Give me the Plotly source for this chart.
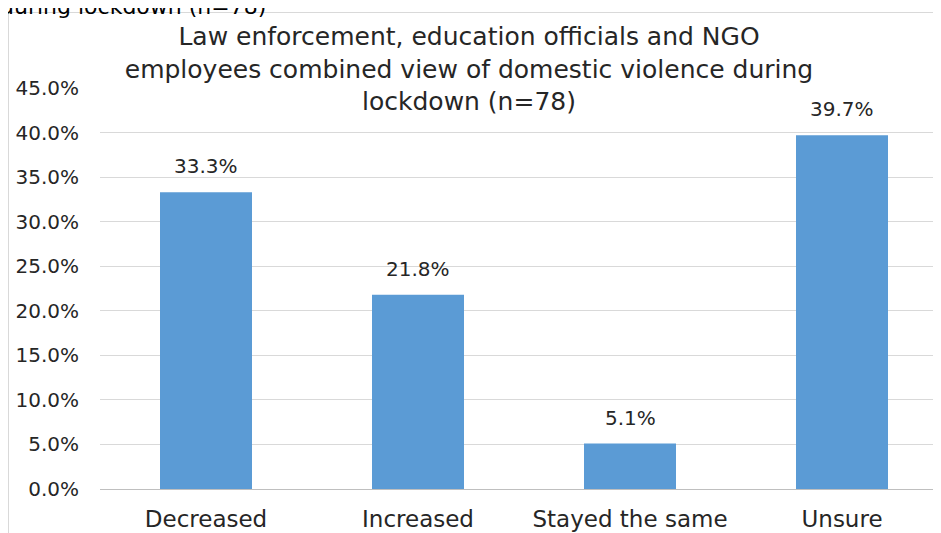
import plotly.graph_objects as go

categories = ["Decreased", "Increased", "Stayed the same", "Unsure"]
values = [33.3, 21.8, 5.1, 39.7]
labels = ["33.3%", "21.8%", "5.1%", "39.7%"]
tickvals = [0, 5, 10, 15, 20, 25, 30, 35, 40, 45]
ticktext = ["0.0%", "5.0%", "10.0%", "15.0%", "20.0%", "25.0%", "30.0%", "35.0%", "40.0%", "45.0%"]

W, H = 941, 533
L, R, T, B = 92, 1, 80, 52
pw = W - L - R
ph = H - T - B
FONT = "DejaVu Sans"
TXT = "#262626"

fig = go.Figure(go.Bar(
    x=categories, y=values,
    marker=dict(color="#5B9BD5", line=dict(width=0)),
))

def px_x(p):
    return (p - L) / pw

def px_y(p):
    return (H - B - p) / ph

annotations = [
    dict(x=c, y=v, text=t, xref="x", yref="y", showarrow=False,
         yanchor="bottom", yshift=12,
         font=dict(size=20, color=TXT, family=FONT))
    for c, v, t in zip(categories, values, labels)
]
annotations.append(
    dict(text="during lockdown (n=78)", xref="paper", yref="paper",
         x=px_x(-10), y=px_y(13), xanchor="left", yanchor="bottom",
         showarrow=False, font=dict(size=22, color="#000000", family=FONT))
)

fig.update_layout(
    width=W, height=H,
    margin=dict(l=L, r=R, t=T, b=B),
    paper_bgcolor="white", plot_bgcolor="white",
    bargap=0.566,
    showlegend=False,
    font=dict(family=FONT, color=TXT),
    title=dict(
        text="Law enforcement, education officials and NGO<br>employees combined view of domestic violence during<br>lockdown (n=78)",
        x=461 / W, xref="container", xanchor="center", y=1 - 37 / H, yanchor="top",
        font=dict(size=25, color=TXT, family=FONT),
    ),
    xaxis=dict(
        range=[-0.5, 3.5], showgrid=False, showline=False,
        tickfont=dict(size=23, color=TXT, family=FONT), ticks="",
        ticklabelstandoff=14,
    ),
    yaxis=dict(
        range=[0, 45], tickvals=tickvals, ticktext=ticktext,
        showgrid=True, gridcolor="#D9D9D9", gridwidth=1,
        zeroline=True, zerolinecolor="#BFBFBF", zerolinewidth=1,
        showline=False, ticks="",
        tickfont=dict(size=20, color=TXT, family=FONT),
        ticklabelstandoff=20,
    ),
    shapes=[
        dict(type="line", xref="paper", yref="paper",
             x0=px_x(0.5), x1=px_x(0.5), y0=px_y(4), y1=px_y(540),
             line=dict(color="#D9D9D9", width=1)),
        dict(type="line", xref="paper", yref="paper",
             x0=px_x(0.5), x1=px_x(950), y0=px_y(4.5), y1=px_y(4.5),
             line=dict(color="#D9D9D9", width=1)),
    ],
    annotations=annotations,
)

fig.write_html("out.html")
